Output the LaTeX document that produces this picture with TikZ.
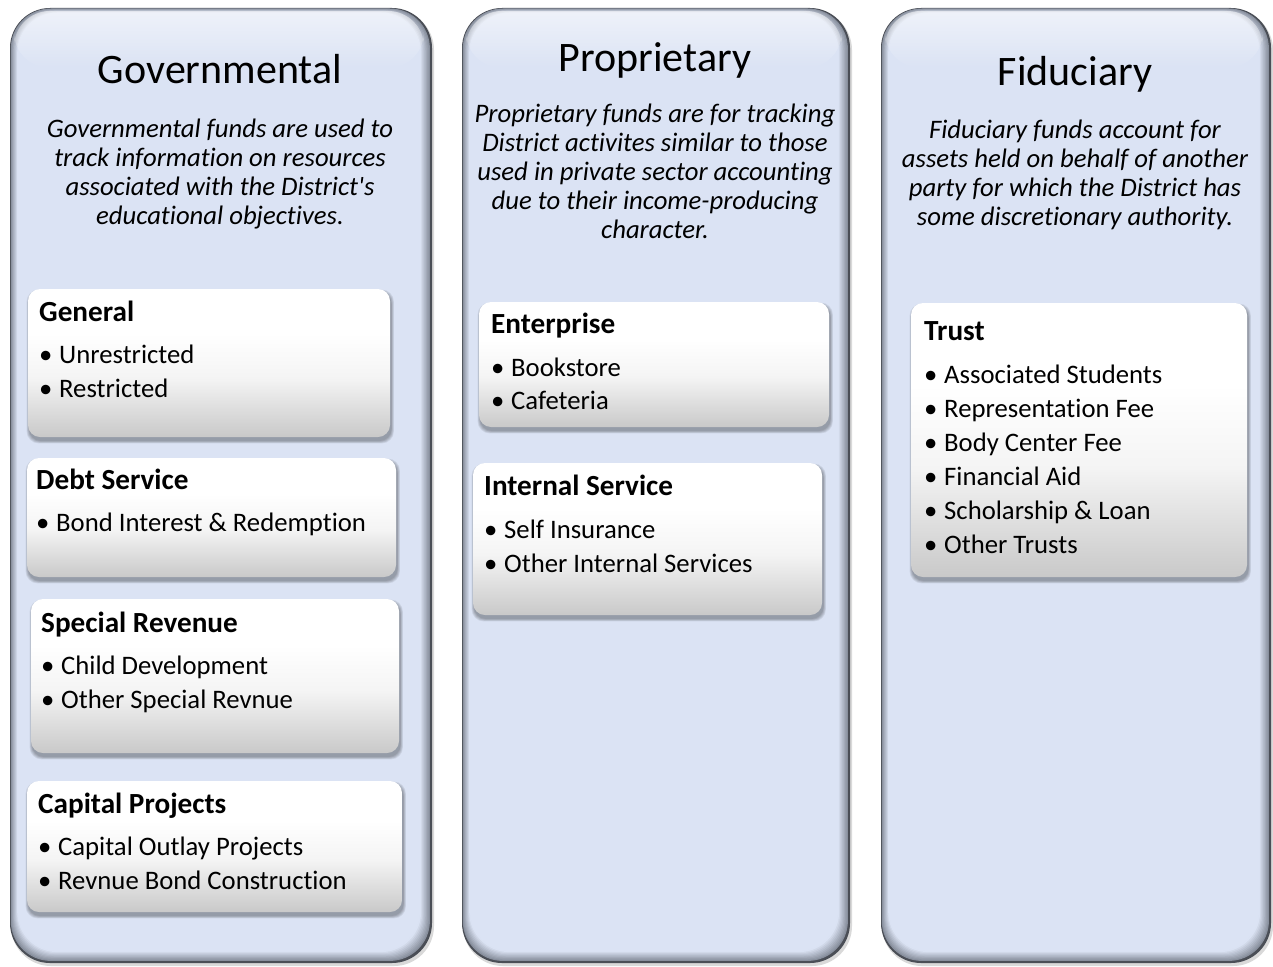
\documentclass[tikz,border=0pt]{standalone}
\usepackage{fontspec}
\setmainfont{Carlito}[Ligatures={NoCommon}]
\usetikzlibrary{fit,fadings}
\definecolor{panelfill}{HTML}{DBE3F4}
\definecolor{paneledge}{HTML}{7E8592}
\definecolor{paneldark}{HTML}{4A4E56}
\definecolor{boxbot}{HTML}{C9C9C9}
\pgfdeclareverticalshading{fundshade}{100bp}{color(0bp)=(boxbot); color(25bp)=(boxbot); color(45bp)=(white!80!boxbot); color(60bp)=(white); color(75bp)=(white); color(100bp)=(white)}
\newcommand\bl{\makebox[20pt][l]{•}}
\newcommand\panelshape[4]{%
  \fill[black,opacity=.15,rounded corners=40pt] (#1+1,#2+2) rectangle (#3+2,#4+3);
  \fill[paneldark,rounded corners=40pt] (#1,#2) rectangle (#3,#4);
  \foreach \k in {1,...,10}{%
    \pgfmathsetmacro\pc{max(0,100-\k*11)}%
    \fill[paneledge!\pc!panelfill,rounded corners=40pt] (#1+\k*0.8,#2+\k*0.5) rectangle (#3-\k*1.1-1,#4-\k*1.1-1);
  }
  \fill[white,opacity=.55,path fading=south,rounded corners=36pt] (#1+4,#2+3) -- (#1+4,#2+60) -- (#3-8,#2+60) -- (#3-8,#2+3) -- cycle;
}
\newcommand\fundbox[5]{%
  \foreach \s in {0,...,4}{%
    \fill[black,opacity=.07,rounded corners=12pt] (#2+1-\s*0.6,#3+3-\s*0.6) rectangle (#4+1.5+\s*0.6,#5+4+\s*0.6);
  }
  \node[fundbox,fit={(#2,#3) (#4,#5)}] (#1) {};
}
\tikzset{
  fundbox/.style={inner sep=0pt,rounded corners=12pt,shade,shading=fundshade,shading angle=0},
  ttl/.style={font=\fontsize{42}{50}\selectfont,anchor=base,inner sep=0pt},
  dsc/.style={font=\fontsize{26.7}{29}\selectfont\itshape,anchor=base,inner sep=0pt},
  hdr/.style={font=\fontsize{29.2}{34}\selectfont\bfseries,anchor=base west,inner sep=0pt},
  itm/.style={font=\fontsize{26.7}{34}\selectfont,anchor=base west,inner sep=0pt}
}
\begin{document}
\begin{tikzpicture}[x=1pt,y=-1pt]
\useasboundingbox (0,0) rectangle (1273,966);
\fill[white] (0,0) rectangle (1273,966);
% panels
\panelshape{10}{8}{432}{963}
\panelshape{462}{8}{850}{963}
\panelshape{881}{8}{1271}{963}
% titles
\node[ttl] (govT) at (220,83) {Governmental};
\node[ttl] (propT) at (655,71) {Proprietary};
\node[ttl] (fidT) at (1075,85) {Fiduciary};
% descriptions
\foreach \t [count=\i from 0] in {Governmental funds are used to,track information on resources,associated with the District\textquotesingle s,educational objectives.}
  \node[dsc] (govD\i) at (220,137+29*\i) {\t};
\foreach \t [count=\i from 0] in {Proprietary funds are for tracking,District activites similar to those,used in private sector accounting,due to their income-producing,character.}
  \node[dsc] (propD\i) at (655,122+29*\i) {\t};
\foreach \t [count=\i from 0] in {Fiduciary funds account for,assets held on behalf of another,party for which the District has,some discretionary authority.}
  \node[dsc] (fidD\i) at (1075,138+29*\i) {\t};
% boxes
\fundbox{genB}{28}{289}{390}{437}
\fundbox{debtB}{27}{458}{396}{577}
\fundbox{specB}{31}{599}{399}{753}
\fundbox{capB}{27}{781}{402}{912}
\fundbox{entB}{479}{302}{829}{427}
\fundbox{intB}{473}{463}{822}{615}
\fundbox{trustB}{911}{303}{1247}{577}
% headers
\node[hdr] (genH) at (39,321) {General};
\node[hdr] (debtH) at (36,489) {Debt Service};
\node[hdr] (specH) at (41,632) {Special Revenue};
\node[hdr] (capH) at (38,813) {Capital Projects};
\node[hdr] (entH) at (491,333) {Enterprise};
\node[hdr] (intH) at (484,495) {Internal Service};
\node[hdr] (trustH) at (924,340) {Trust};
% items
\foreach \t [count=\i from 0] in {Unrestricted,Restricted}
  \node[itm] (genI\i) at (39,363+34*\i) {\bl\t};
\node[itm] (debtI0) at (36,531) {\bl Bond Interest \& Redemption};
\foreach \t [count=\i from 0] in {Child Development,Other Special Revnue}
  \node[itm] (specI\i) at (41,674+34*\i) {\bl\t};
\foreach \t [count=\i from 0] in {Capital Outlay Projects,Revnue Bond Construction}
  \node[itm] (capI\i) at (38,855+34*\i) {\bl\t};
\foreach \t [count=\i from 0] in {Bookstore,Cafeteria}
  \node[itm] (entI\i) at (491,376+33*\i) {\bl\t};
\foreach \t [count=\i from 0] in {Self Insurance,Other Internal Services}
  \node[itm] (intI\i) at (484,538+34*\i) {\bl\t};
\foreach \t [count=\i from 0] in {Associated Students,Representation Fee,Body Center Fee,Financial Aid,Scholarship \& Loan,Other Trusts}
  \node[itm] (trustI\i) at (924,383+34*\i) {\bl\t};
\end{tikzpicture}
\end{document}
